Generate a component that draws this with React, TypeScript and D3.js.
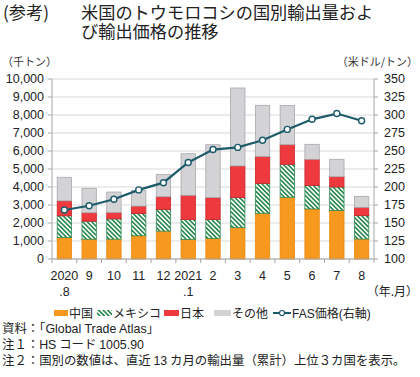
import React from "react";
import * as d3 from "d3";

const monthLine1 = ["2020", "9", "10", "11", "12", "2021", "2", "3", "4", "5", "6", "7", "8"];
const monthLine2 = [".8", "", "", "", "", ".1", "", "", "", "", "", "", ""];
const china = [1190, 1100, 1100, 1290, 1550, 1090, 1150, 1740, 2540, 3430, 2780, 2700, 1110];
const mexico = [1210, 1000, 1130, 1240, 1210, 1100, 1050, 1670, 1660, 1830, 1310, 1300, 1300];
const japan = [830, 470, 350, 410, 700, 1350, 1210, 1760, 1490, 1090, 1450, 570, 460];
const other = [1310, 1360, 1140, 860, 1240, 2310, 2940, 4330, 2850, 2180, 830, 970, 610];
const fasPrice = [168, 174, 183, 196, 206, 234, 252, 255, 265, 280, 294, 302, 292];
const leftTicks = [0, 1000, 2000, 3000, 4000, 5000, 6000, 7000, 8000, 9000, 10000];
const rightTicks = [100, 125, 150, 175, 200, 225, 250, 275, 300, 325, 350];
const seriesNames = ["中国", "メキシコ", "日本", "その他"];

const W = 420;
const H = 377;
const FONT = "'Liberation Sans', Arial, 'Noto Sans CJK JP', sans-serif";
const JFONT = "'Noto Sans CJK JP', sans-serif";

export default function App() {
  const left = 52, right = 374, top = 79, bottom = 259;
  const x = d3.scaleBand<number>().domain(d3.range(monthLine1.length)).range([left, right]).paddingInner(0.42).paddingOuter(0.21);
  const yL = d3.scaleLinear().domain([0, 10000]).range([bottom, top]);
  const yR = d3.scaleLinear().domain([100, 350]).range([bottom, top]);

  const rows = monthLine1.map((_, i) => ({ i, c0: china[i], c1: mexico[i], c2: japan[i], c3: other[i] }));
  const stack = d3.stack<any>().keys(["c0", "c1", "c2", "c3"]);
  const layers = stack(rows);
  const fills = ["#F7981F", "url(#hatch)", "#EE3A3E", "#D3D3D6"];
  const strokes = ["#E9880F", "#2F8A55", "#C8262C", "#A9A9AC"];

  const line = d3.line<number>().x((_, i) => x(i)! + x.bandwidth() / 2).y((d) => yR(d));
  const lineColor = "#1D5B6B";

  const tickStep = (right - left) / monthLine1.length;

  return (
    <svg width={W} height={H} style={{ position: "absolute", left: 0, top: 0, background: "#fff" }} fontFamily={FONT}>
      <defs>
        <pattern id="hatch" width={3.2} height={3.2} patternUnits="userSpaceOnUse" patternTransform="rotate(-45)">
          <rect width={3.2} height={3.2} fill="#ffffff" />
          <line x1={0.8} y1={0} x2={0.8} y2={3.2} stroke="#2B8A50" strokeWidth={1.7} />
        </pattern>
      </defs>

      {/* title */}
      <text x={3} y={19} fontSize={17.2} fontFamily={JFONT} fill="#222">(参考)</text>
      <text x={81} y={19} fontSize={17.2} fontFamily={JFONT} fill="#222">米国のトウモロコシの国別輸出量およ</text>
      <text x={81} y={38} fontSize={17.2} fontFamily={JFONT} fill="#222">び輸出価格の推移</text>

      {/* unit labels */}
      <text x={2} y={66} fontSize={11} fontFamily={JFONT} fill="#333">（千トン）</text>
      <text x={418} y={66} fontSize={11} fontFamily={JFONT} fill="#333" textAnchor="end">（米ドル/トン）</text>

      {/* gridlines */}
      {leftTicks.map((t) => (
        <line key={"g" + t} x1={left} x2={right} y1={yL(t)} y2={yL(t)} stroke="#D9D9D9" strokeWidth={1} />
      ))}

      {/* bars */}
      {layers.map((layer, k) => (
        <g key={k}>
          {layer.map((d, i) => (
            <rect key={i} x={x(i)!} width={x.bandwidth()} y={yL(d[1])} height={yL(d[0]) - yL(d[1])}
              fill={fills[k]} stroke={strokes[k]} strokeWidth={0.8} />
          ))}
        </g>
      ))}

      {/* axes */}
      <line x1={left} x2={left} y1={top} y2={bottom} stroke="#A6A6A6" />
      <line x1={right} x2={right} y1={top} y2={bottom} stroke="#A6A6A6" />
      <line x1={left} x2={right} y1={bottom} y2={bottom} stroke="#A6A6A6" />
      {leftTicks.map((t) => (
        <g key={"l" + t}>
          <line x1={left - 4} x2={left} y1={yL(t)} y2={yL(t)} stroke="#A6A6A6" />
          <text x={44} y={yL(t) + 4.3} fontSize={12.5} textAnchor="end" fill="#222">{d3.format(",")(t)}</text>
        </g>
      ))}
      {rightTicks.map((t) => (
        <g key={"r" + t}>
          <line x1={right} x2={right + 4} y1={yR(t)} y2={yR(t)} stroke="#A6A6A6" />
          <text x={384} y={yR(t) + 4.3} fontSize={12.5} fill="#222">{t}</text>
        </g>
      ))}
      {d3.range(monthLine1.length + 1).map((i) => (
        <line key={"xt" + i} x1={left + i * tickStep} x2={left + i * tickStep} y1={bottom} y2={bottom + 4} stroke="#A6A6A6" />
      ))}
      {monthLine1.map((m, i) => (
        <g key={"xl" + i}>
          <text x={x(i)! + x.bandwidth() / 2} y={279.5} fontSize={12.5} textAnchor="middle" fill="#222">{m}</text>
          {monthLine2[i] && (
            <text x={x(i)! + x.bandwidth() / 2} y={296} fontSize={12.5} textAnchor="middle" fill="#222">{monthLine2[i]}</text>
          )}
        </g>
      ))}
      <text x={418} y={296} fontSize={12} fontFamily={JFONT} textAnchor="end" fill="#222">（年.月）</text>

      {/* price line */}
      <path d={line(fasPrice) || ""} fill="none" stroke={lineColor} strokeWidth={2.2} />
      {fasPrice.map((v, i) => (
        <circle key={"c" + i} cx={x(i)! + x.bandwidth() / 2} cy={yR(v)} r={3} fill="#fff" stroke={lineColor} strokeWidth={1.4} />
      ))}

      {/* legend */}
      <g fontFamily={JFONT} fontSize={12} fill="#222">
        <rect x={54} y={310} width={14} height={6} fill={fills[0]} />
        <text x={69} y={317.5}>{seriesNames[0]}</text>
        <rect x={97} y={310} width={15} height={6} fill={fills[1]} />
        <text x={113} y={317.5}>{seriesNames[1]}</text>
        <rect x={164} y={310} width={15} height={6} fill={fills[2]} />
        <text x={180} y={317.5}>{seriesNames[2]}</text>
        <rect x={214} y={310} width={17} height={6} fill={fills[3]} />
        <text x={232} y={317.5}>{seriesNames[3]}</text>
        <line x1={273} x2={291} y1={313} y2={313} stroke={lineColor} strokeWidth={2} />
        <circle cx={282} cy={313} r={2.5} fill="#fff" stroke={lineColor} strokeWidth={1.2} />
        <text x={292} y={317.5}><tspan fontFamily={FONT}>FAS</tspan>価格<tspan fontFamily={FONT}>(</tspan>右軸<tspan fontFamily={FONT}>)</tspan></text>
      </g>

      {/* notes */}
      <g fontFamily={JFONT} fontSize={12.4} fill="#222">
        <text x={2} y={333}>資料：「<tspan fontFamily={FONT}>Global Trade Atlas</tspan>」</text>
        <text x={2} y={348.5}>注１：<tspan fontFamily={FONT}>HS</tspan> コード <tspan fontFamily={FONT}>1005.90</tspan></text>
        <text x={2} y={364.5}>注２：国別の数値は、直近 <tspan fontFamily={FONT}>13</tspan> カ月の輸出量（累計）上位３カ国を表示。</text>
      </g>
    </svg>
  );
}
